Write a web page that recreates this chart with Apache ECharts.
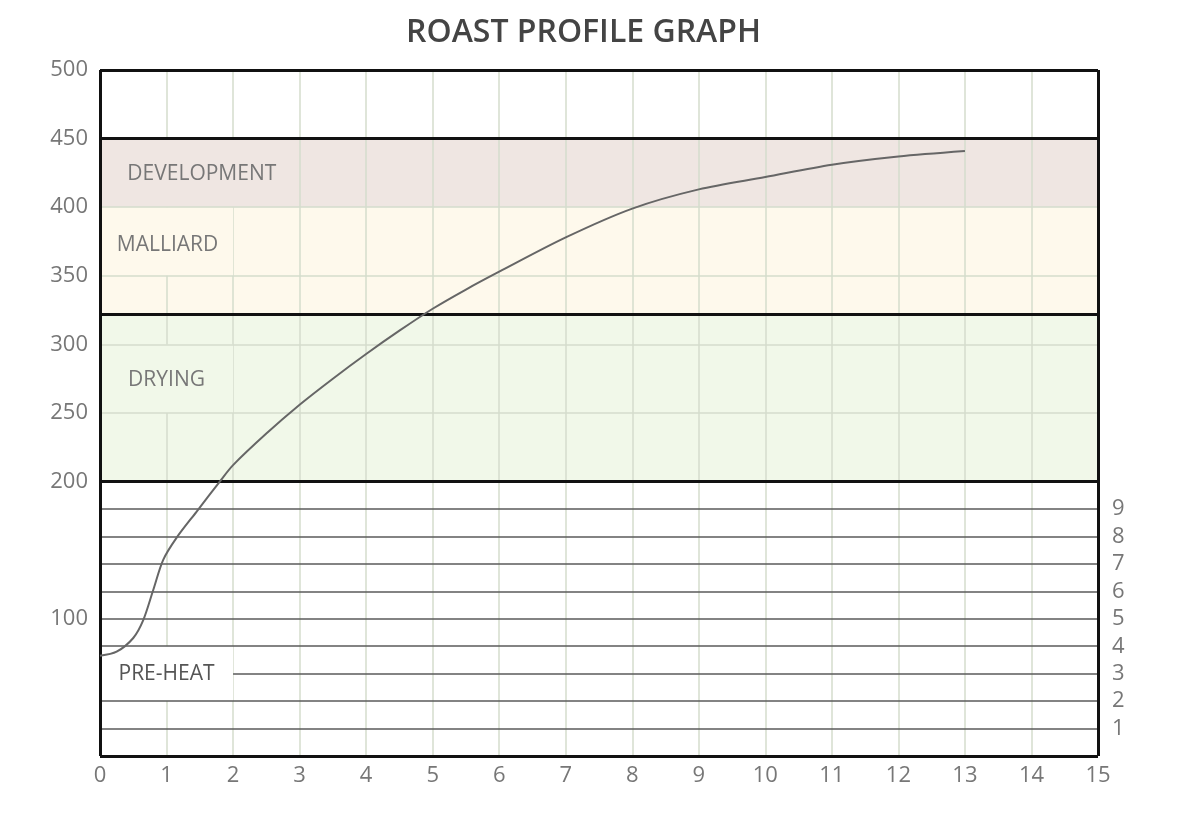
<!DOCTYPE html>
<html>
<head>
<meta charset="utf-8">
<script src="https://cdn.jsdelivr.net/npm/echarts@6/dist/echarts.min.js"></script>
<style>html,body{margin:0;padding:0;background:#fff}#c{width:1200px;height:827px}</style>
</head>
<body>
<div id="c"></div>
<script>
// ---- data ----
var titleText = 'ROAST PROFILE GRAPH';
var timeMin = [0, 0.25, 0.5, 0.65, 0.8, 0.95, 1.15, 1.45, 1.8, 2, 2.5, 3, 3.5, 4, 4.5, 5, 5.5, 6, 7, 8, 9, 10, 11, 12, 13];
var temperature = [73, 76, 86, 99, 121, 143, 159, 178, 200, 212, 235, 256, 275, 293, 310, 326, 340, 353, 378, 399, 413, 422, 431, 437, 441];
var leftTickLabels = [100, 200, 250, 300, 350, 400, 450, 500];
var rightTickValues = [20, 40, 60, 80, 100, 120, 140, 160, 180];
var rightTickLabels = ['1', '2', '3', '4', '5', '6', '7', '8', '9'];
var phaseNames = ['DRYING', 'MALLIARD', 'DEVELOPMENT'];
var phaseRanges = [[200, 322], [322, 400], [400, 450]];
var preHeatName = 'PRE-HEAT';
var lightLines = [250, 300, 350, 400];
var darkLines = [20, 40, 80, 100, 120, 140, 160, 180];
var coveredDarkLine = 60;
var boundaryLines = [0, 200, 322, 450, 500];
var verticalLines = [1, 2, 3, 4, 5, 6, 7, 8, 9, 10, 11, 12, 13, 14];
// label boxes: [xFrom, yFrom, xTo, yTo]
var boxDev = [0, 400, 2.97, 450];
var boxMal = [0, 350, 2, 400];
var boxDry = [0, 250, 2, 300];
var boxPre = [0, 40, 2, 80];

var FONT = '"Open Sans", "Noto Sans", sans-serif';
var bandColors = ['#f1f8e9', '#fef9ec', '#efe6e2'];
var LIGHT = '#d5dccd';

function hl(v, color, width) { return { yAxis: v, lineStyle: { color: color, width: width, type: 'solid' } }; }
function vl(v, color, width) { return { xAxis: v, lineStyle: { color: color, width: width, type: 'solid' } }; }
function ml(data, z) {
  return { silent: true, z: z, symbol: ['none', 'none'], label: { show: false }, animation: false,
           emphasis: { disabled: true }, data: data };
}
function box(b, name, fill, txtColor, off) {
  return [{ coord: [b[0], b[1]], itemStyle: { color: fill, borderWidth: 0 },
            label: { show: true, position: 'inside', formatter: name, color: txtColor, fontSize: 21,
                     fontFamily: FONT, offset: off || [0, 0] } },
          { coord: [b[2], b[3]] }];
}

var chart = echarts.init(document.getElementById('c'), null, { renderer: 'canvas' });
var option = {
  animation: false,
  backgroundColor: '#ffffff',
  title: {
    text: titleText, left: 401, top: 12,
    textStyle: { fontFamily: FONT, fontSize: 32, fontWeight: 600, color: '#444444' }
  },
  grid: { left: 100, right: 102, top: 70, bottom: 71, containLabel: false },
  xAxis: {
    type: 'value', min: 0, max: 15, interval: 1,
    axisLine: { show: false }, axisTick: { show: false }, splitLine: { show: false },
    axisLabel: { color: '#777777', fontSize: 22, fontFamily: FONT, margin: 9 }
  },
  yAxis: [
    {
      type: 'value', min: 0, max: 500, interval: 50, position: 'left',
      axisLine: { show: false }, axisTick: { show: false }, splitLine: { show: false },
      axisLabel: { color: '#777777', fontSize: 22, fontFamily: FONT, margin: 12,
        formatter: function (v) { return leftTickLabels.indexOf(v) >= 0 ? String(v) : ''; } }
    },
    {
      type: 'value', min: 0, max: 500, interval: 20, position: 'right',
      axisLine: { show: false }, axisTick: { show: false }, splitLine: { show: false },
      axisLabel: { color: '#777777', fontSize: 22, fontFamily: FONT, margin: 14,
        formatter: function (v) { var i = rightTickValues.indexOf(v); return i >= 0 ? rightTickLabels[i] : ''; } }
    }
  ],
  series: [
    { // phase bands
      type: 'line', data: [], z: 1, silent: true,
      markArea: { silent: true, animation: false, z: 1,
        data: phaseRanges.map(function (r, i) {
          return [{ yAxis: r[0], itemStyle: { color: bandColors[i] } }, { yAxis: r[1] }];
        }) }
    },
    { // lines under the label boxes
      type: 'line', data: [], z: 2, silent: true,
      markLine: ml(verticalLines.map(function (v) { return vl(v, LIGHT, 1.5); })
        .concat([hl(coveredDarkLine, '#5a5a5a', 1.5)]), 2)
    },
    { // label boxes
      type: 'line', data: [], z: 3, silent: true,
      markArea: { silent: true, animation: false, z: 3,
        data: [
          box(boxDev, phaseNames[2], bandColors[2], '#777777', [3, 1]),
          box(boxMal, phaseNames[1], bandColors[1], '#777777', [1, 4]),
          box(boxDry, phaseNames[0], bandColors[0], '#777777', [0, 1]),
          box(boxPre, preHeatName, '#ffffff', '#555555', [0, 0])
        ] }
    },
    { // lines over the label boxes
      type: 'line', data: [], z: 4, silent: true,
      markLine: ml(lightLines.map(function (v) { return hl(v, LIGHT, 1.5); })
        .concat(darkLines.map(function (v) { return hl(v, '#5a5a5a', 1.5); }))
        .concat(boundaryLines.map(function (v) { return hl(v, '#111111', 3); }))
        .concat([vl(0, '#111111', 3), vl(15, '#111111', 3)]), 4)
    },
    { // roast curve
      type: 'line', z: 10, smooth: 0.3, symbol: 'none', silent: true,
      lineStyle: { color: '#666666', width: 2 },
      data: timeMin.map(function (t, i) { return [t, temperature[i]]; })
    }
  ]
};
chart.setOption(option);
</script>
</body>
</html>
